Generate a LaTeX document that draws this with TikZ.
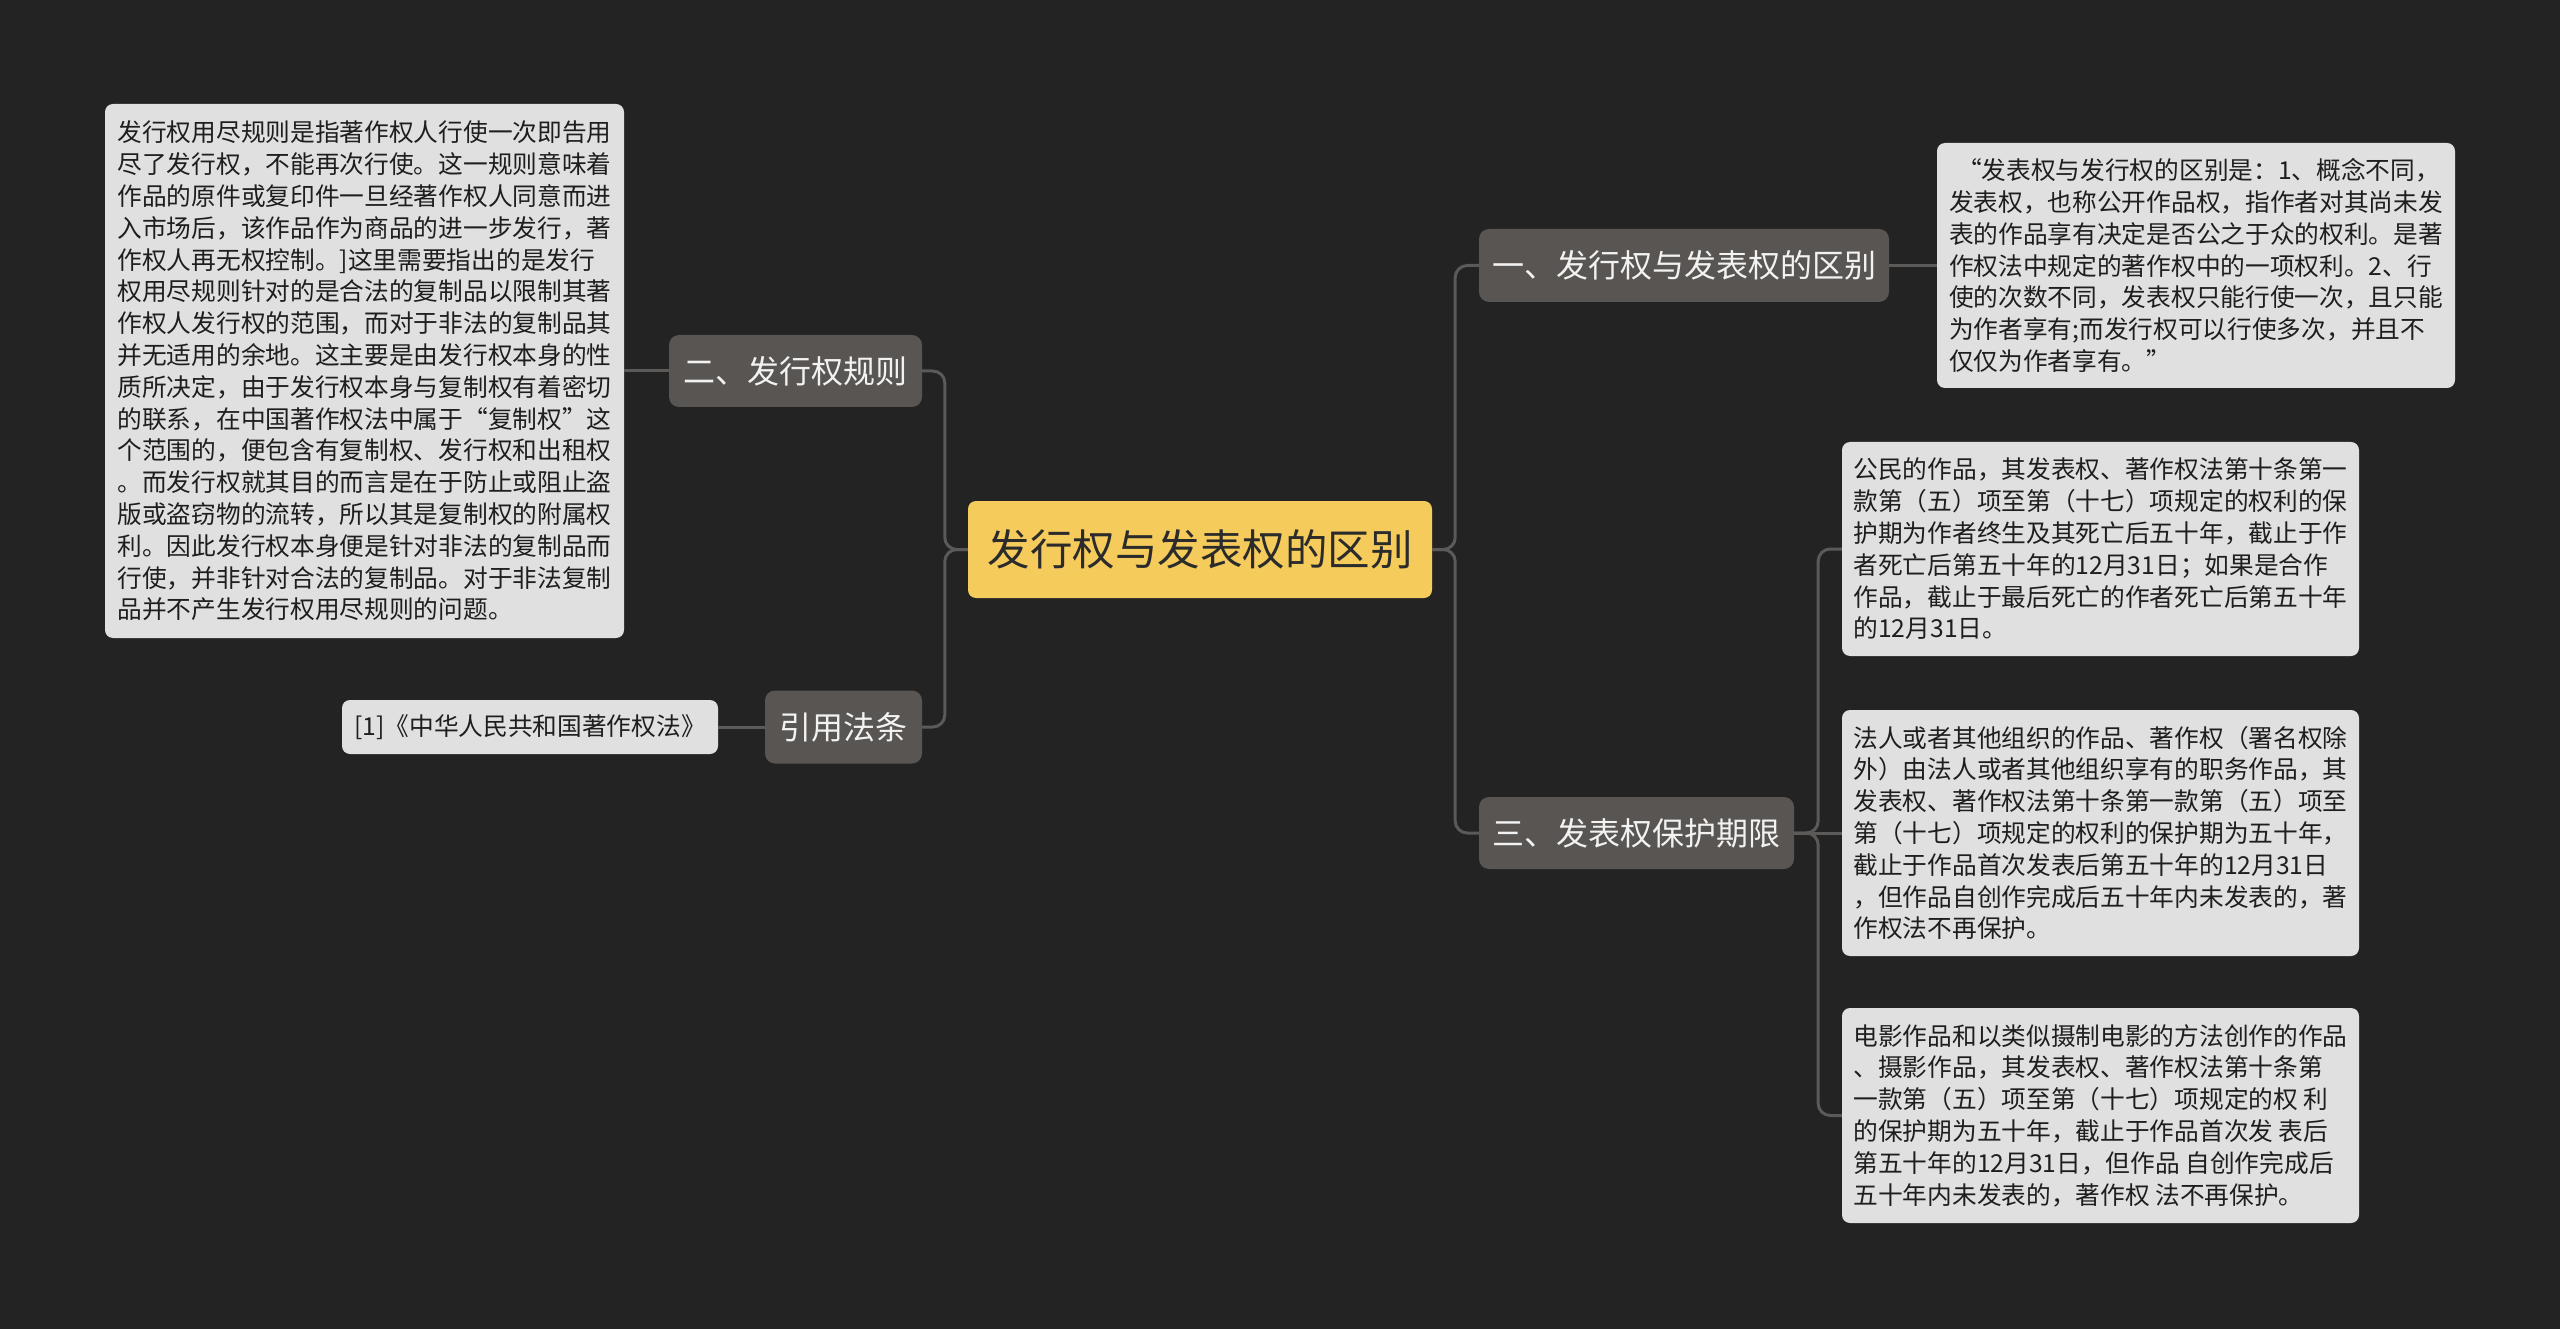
\documentclass[tikz,border=0pt]{standalone}
\usepackage{fontspec}
\setmainfont{Noto Sans CJK SC}
\definecolor{bgc}{HTML}{232323}
\definecolor{rootc}{HTML}{F5CB5C}
\definecolor{roottext}{HTML}{2B2B2B}
\definecolor{branchc}{HTML}{595552}
\definecolor{branchtext}{HTML}{F2F2F2}
\definecolor{leafc}{HTML}{E0E0E0}
\definecolor{leaftext}{HTML}{1E1E1E}
\definecolor{linkc}{HTML}{5C5A58}
\tikzset{
  rootbox/.style={fill=rootc, rounded corners=8, text=roottext, inner sep=0,
    font=\fontsize{42.5}{50}\selectfont},
  branchbox/.style={fill=branchc, rounded corners=10, text=branchtext, inner sep=0,
    font=\fontsize{32}{38}\selectfont},
  leafbox/.style={fill=leafc, rounded corners=8, text=leaftext, inner sep=0,
    align=left, font=\fontsize{24.7}{31.8}\selectfont},
  link/.style={draw=linkc, line width=3, rounded corners=12},
}
\begin{document}
\begin{tikzpicture}[x=1pt,y=-1pt]
\path[use as bounding box, fill=bgc] (0,0) rectangle (2560,1329);

% root
\node[rootbox, minimum width=464, minimum height=97] (root) at (1200,549.5) {发行权与发表权的区别};

% branches
\node[branchbox, minimum width=410, minimum height=73] (b1) at (1684,265.5) {一、发行权与发表权的区别};
\node[branchbox, minimum width=315, minimum height=72] (b3) at (1636.5,833) {三、发表权保护期限};
\node[branchbox, minimum width=253, minimum height=72] (b2) at (795.5,371) {二、发行权规则};
\node[branchbox, minimum width=157, minimum height=73] (b4) at (843.5,727) {引用法条};

% leaves
\node[leafbox, minimum width=519, minimum height=534] (l1) at (364.5,371) {%
发行权用尽规则是指著作权人行使一次即告用\\
尽了发行权，不能再次行使。这一规则意味着\\
作品的原件或复印件一旦经著作权人同意而进\\
入市场后，该作品作为商品的进一步发行，著\\
作权人再无权控制。]这里需要指出的是发行\\
权用尽规则针对的是合法的复制品以限制其著\\
作权人发行权的范围，而对于非法的复制品其\\
并无适用的余地。这主要是由发行权本身的性\\
质所决定，由于发行权本身与复制权有着密切\\
的联系，在中国著作权法中属于“复制权”这\\
个范围的，便包含有复制权、发行权和出租权\\
。而发行权就其目的而言是在于防止或阻止盗\\
版或盗窃物的流转，所以其是复制权的附属权\\
利。因此发行权本身便是针对非法的复制品而\\
行使，并非针对合法的复制品。对于非法复制\\
品并不产生发行权用尽规则的问题。};

\node[leafbox, minimum width=376, minimum height=54] (l2) at (530,727) {[1]《中华人民共和国著作权法》};

\node[leafbox, minimum width=518, minimum height=245] (r1) at (2196,265.5) {%
\hspace*{8pt}“发表权与发行权的区别是：1、概念不同，\\
发表权，也称公开作品权，指作者对其尚未发\\
表的作品享有决定是否公之于众的权利。是著\\
作权法中规定的著作权中的一项权利。2、行\\
使的次数不同，发表权只能行使一次，且只能\\
为作者享有;而发行权可以行使多次，并且不\\
仅仅为作者享有。”};

\node[leafbox, minimum width=517, minimum height=214] (r2) at (2100.5,549) {%
公民的作品，其发表权、著作权法第十条第一\\
款第（五）项至第（十七）项规定的权利的保\\
护期为作者终生及其死亡后五十年，截止于作\\
者死亡后第五十年的12月31日；如果是合作\\
作品，截止于最后死亡的作者死亡后第五十年\\
的12月31日。};

\node[leafbox, minimum width=517, minimum height=246] (r3) at (2100.5,833) {%
法人或者其他组织的作品、著作权（署名权除\\
外）由法人或者其他组织享有的职务作品，其\\
发表权、著作权法第十条第一款第（五）项至\\
第（十七）项规定的权利的保护期为五十年，\\
截止于作品首次发表后第五十年的12月31日\\
，但作品自创作完成后五十年内未发表的，著\\
作权法不再保护。};

\node[leafbox, minimum width=517, minimum height=215] (r4) at (2100.5,1115.5) {%
电影作品和以类似摄制电影的方法创作的作品\\
、摄影作品，其发表权、著作权法第十条第\\
一款第（五）项至第（十七）项规定的权 利\\
的保护期为五十年，截止于作品首次发 表后\\
第五十年的12月31日，但作品 自创作完成后\\
五十年内未发表的，著作权 法不再保护。};

% connectors
\draw[link] (root.east) -- ++(23,0) |- (b1.west);
\draw[link] (root.east) -- ++(23,0) |- (b3.west);
\draw[link] (root.west) -- ++(-23,0) |- (b2.east);
\draw[link] (root.west) -- ++(-23,0) |- (b4.east);
\draw[link] (b2.west) -- (l1.east |- b2.west);
\draw[link] (b4.west) -- (l2.east |- b4.west);
\draw[link] (b1.east) -- (r1.west |- b1.east);
\draw[link] (b3.east) -- (r3.west);
\draw[link] (b3.east) -- ++(24,0) |- (r2.west);
\draw[link] (b3.east) -- ++(24,0) |- (r4.west);
\end{tikzpicture}
\end{document}
